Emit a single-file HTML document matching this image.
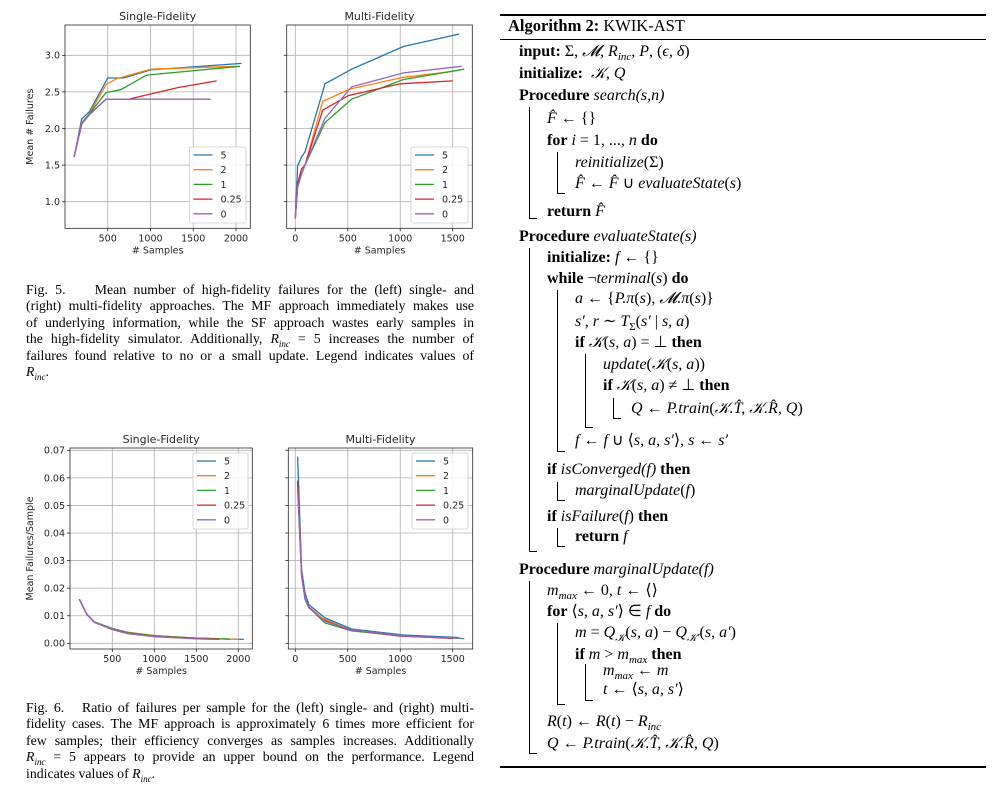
<!DOCTYPE html>
<html><head><meta charset="utf-8">
<style>
body{margin:0;width:999px;height:788px;background:#fff;position:relative;overflow:hidden;font-family:"Liberation Serif",serif;color:#000}
sub{line-height:0}
.cap{position:absolute;left:26px;width:448px;font-size:13.8px;line-height:16.4px}
.cap div{text-align:justify;text-align-last:justify;white-space:nowrap;height:16.4px}
.cap div.l{text-align-last:left}
.alg{position:absolute;font-size:16px;white-space:nowrap;line-height:18px}
.m{font-style:italic}
.b{font-weight:bold}
.vb{position:absolute;border-left:1px solid #000;border-bottom:1px solid #000;width:7px}
.rule{position:absolute;left:500px;width:486px;background:#000}
svg text{font-family:"DejaVu Sans",sans-serif;fill:#262626}
</style></head><body>
<svg id="charts" width="490" height="690" style="position:absolute;left:0;top:0"></svg>

<div class="cap" style="top:282px">
<div>Fig. 5.&nbsp;&nbsp;&nbsp; Mean number of high-fidelity failures for the (left) single- and</div>
<div>(right) multi-fidelity approaches. The MF approach immediately makes use</div>
<div>of underlying information, while the SF approach wastes early samples in</div>
<div>the high-fidelity simulator. Additionally, <span class="m">R<sub style="font-size:9px">inc</sub></span> = 5 increases the number of</div>
<div>failures found relative to no or a small update. Legend indicates values of</div>
<div class="l"><span class="m">R<sub style="font-size:9px">inc</sub></span>.</div>
</div>
<div class="cap" style="top:700px">
<div>Fig. 6.&nbsp;&nbsp; Ratio of failures per sample for the (left) single- and (right) multi-</div>
<div>fidelity cases. The MF approach is approximately 6 times more efficient for</div>
<div>few samples; their efficiency converges as samples increases. Additionally</div>
<div><span class="m">R<sub style="font-size:9px">inc</sub></span> = 5 appears to provide an upper bound on the performance. Legend</div>
<div class="l">indicates values of <span class="m">R<sub style="font-size:9px">inc</sub></span>.</div>
</div>

<div>
<div class="rule" style="top:14px;height:1.5px"></div>
<div class="alg" style="left:508px;top:17px;font-size:16.5px"><span class="b">Algorithm 2:</span> KWIK-AST</div>
<div class="rule" style="top:39px;height:1px"></div>
<div class="rule" style="top:766px;height:1.5px"></div>

<div class="alg" style="left:519px;top:43px"><span class="b">input:</span> Σ, <span class="m">𝓜, R<sub style="font-size:11px">inc</sub>, P</span>, (<span class="m">ϵ, δ</span>)</div>
<div class="alg" style="left:519px;top:65px"><span class="b">initialize:</span>&nbsp; <span class="m">𝒦, Q</span></div>
<div class="alg" style="left:519px;top:87px"><span class="b">Procedure</span> <span class="m">search(s,n)</span></div>
<div class="vb" style="left:529px;top:107px;height:111px"></div>
<div class="alg" style="left:547px;top:110px"><span class="m">F̂</span> ← {}</div>
<div class="alg" style="left:547px;top:132px"><span class="b">for</span> <span class="m">i</span> = 1, ..., <span class="m">n</span> <span class="b">do</span></div>
<div class="vb" style="left:557px;top:152px;height:41px"></div>
<div class="alg" style="left:575px;top:154px"><span class="m">reinitialize</span>(Σ)</div>
<div class="alg" style="left:575px;top:175px"><span class="m">F̂</span> ← <span class="m">F̂</span> ∪ <span class="m">evaluateState</span>(<span class="m">s</span>)</div>
<div class="alg" style="left:547px;top:203px"><span class="b">return</span> <span class="m">F̂</span></div>

<div class="alg" style="left:519px;top:228px"><span class="b">Procedure</span> <span class="m">evaluateState(s)</span></div>
<div class="vb" style="left:529px;top:248px;height:303px"></div>
<div class="alg" style="left:547px;top:249px"><span class="b">initialize:</span> <span class="m">f</span> ← {}</div>
<div class="alg" style="left:547px;top:270px"><span class="b">while</span> ¬<span class="m">terminal</span>(<span class="m">s</span>) <span class="b">do</span></div>
<div class="vb" style="left:557px;top:290px;height:161px"></div>
<div class="alg" style="left:575px;top:290px"><span class="m">a</span> ← {<span class="m">P.π</span>(<span class="m">s</span>), <span class="m">𝓜.π</span>(<span class="m">s</span>)}</div>
<div class="alg" style="left:575px;top:313px"><span class="m">s′, r</span> ∼ <span class="m">T</span><sub style="font-size:11px">Σ</sub>(<span class="m">s′</span> | <span class="m">s, a</span>)</div>
<div class="alg" style="left:575px;top:334px"><span class="b">if</span> <span class="m">𝒦</span>(<span class="m">s, a</span>) = ⊥ <span class="b">then</span></div>
<div class="vb" style="left:585px;top:354px;height:73px"></div>
<div class="alg" style="left:603px;top:356px"><span class="m">update</span>(<span class="m">𝒦</span>(<span class="m">s, a</span>))</div>
<div class="alg" style="left:603px;top:377px"><span class="b">if</span> <span class="m">𝒦</span>(<span class="m">s, a</span>) ≠ ⊥ <span class="b">then</span></div>
<div class="vb" style="left:613px;top:398px;height:20px"></div>
<div class="alg" style="left:631px;top:400px"><span class="m">Q</span> ← <span class="m">P.train</span>(<span class="m">𝒦.T̂, 𝒦.R̂, Q</span>)</div>
<div class="alg" style="left:575px;top:432px"><span class="m">f</span> ← <span class="m">f</span> ∪ ⟨<span class="m">s, a, s′</span>⟩, <span class="m">s</span> ← <span class="m">s′</span></div>
<div class="alg" style="left:547px;top:461px"><span class="b">if</span> <span class="m">isConverged(f)</span> <span class="b">then</span></div>
<div class="vb" style="left:557px;top:482px;height:18px"></div>
<div class="alg" style="left:575px;top:482px"><span class="m">marginalUpdate</span>(<span class="m">f</span>)</div>
<div class="alg" style="left:547px;top:508px"><span class="b">if</span> <span class="m">isFailure</span>(<span class="m">f</span>) <span class="b">then</span></div>
<div class="vb" style="left:557px;top:528px;height:18px"></div>
<div class="alg" style="left:575px;top:528px"><span class="b">return</span> <span class="m">f</span></div>

<div class="alg" style="left:519px;top:561px"><span class="b">Procedure</span> <span class="m">marginalUpdate(f)</span></div>
<div class="vb" style="left:529px;top:581px;height:172px"></div>
<div class="alg" style="left:547px;top:582px"><span class="m">m<sub style="font-size:11px">max</sub></span> ← 0, <span class="m">t</span> ← ⟨⟩</div>
<div class="alg" style="left:547px;top:603px"><span class="b">for</span> ⟨<span class="m">s, a, s′</span>⟩ ∈ <span class="m">f</span> <span class="b">do</span></div>
<div class="vb" style="left:557px;top:623px;height:81px"></div>
<div class="alg" style="left:575px;top:624px"><span class="m">m</span> = <span class="m">Q</span><sub style="font-size:11px" class="m">𝒦</sub>(<span class="m">s, a</span>) − <span class="m">Q</span><sub style="font-size:11px" class="m">𝒦′</sub>(<span class="m">s, a′</span>)</div>
<div class="alg" style="left:575px;top:646px"><span class="b">if</span> <span class="m">m</span> &gt; <span class="m">m<sub style="font-size:11px">max</sub></span> <span class="b">then</span></div>
<div class="vb" style="left:585px;top:664px;height:36px"></div>
<div class="alg" style="left:603px;top:662px"><span class="m">m<sub style="font-size:11px">max</sub></span> ← <span class="m">m</span></div>
<div class="alg" style="left:603px;top:681px"><span class="m">t</span> ← ⟨<span class="m">s, a, s′</span>⟩</div>
<div class="alg" style="left:547px;top:713px"><span class="m">R</span>(<span class="m">t</span>) ← <span class="m">R</span>(<span class="m">t</span>) − <span class="m">R<sub style="font-size:11px">inc</sub></span></div>
<div class="alg" style="left:547px;top:735px"><span class="m">Q</span> ← <span class="m">P.train</span>(<span class="m">𝒦.T̂, 𝒦.R̂, Q</span>)</div>
</div>

<script>
const seriesNames=["5","2","1","0.25","0"];
const colors=["#1f77b4","#ff7f0e","#2ca02c","#d62728","#9467bd"];
// Fig 5 single-fidelity: x samples, y mean failures
const sfX=[[107,196,286,500,683,1003,2066],[107,196,286,480,605,1003,2000],[107,196,286,480,652,956,2047],[107,196,286,480,742,995,1326,1774],[107,196,286,480,1704]];
const sfY=[[1.61,2.13,2.23,2.69,2.69,2.80,2.89],[1.61,2.08,2.20,2.60,2.68,2.81,2.85],[1.61,2.07,2.20,2.49,2.53,2.73,2.85],[1.61,2.06,2.19,2.40,2.40,2.47,2.56,2.65],[1.61,2.06,2.19,2.40,2.40]];
const mfX=[[0,22,60,92,283,537,1030,1560],[0,22,60,92,261,521,1030,1506],[0,22,60,92,283,537,1030,1611],[0,22,60,92,261,505,998,1500],[0,22,60,92,283,537,1030,1585]];
const mfY=[[0.77,1.49,1.61,1.68,2.61,2.81,3.12,3.29],[0.77,1.20,1.39,1.50,2.37,2.54,2.70,2.78],[0.77,1.20,1.38,1.50,2.08,2.40,2.67,2.81],[0.77,1.25,1.45,1.50,2.25,2.45,2.61,2.65],[0.77,1.20,1.38,1.50,2.14,2.57,2.76,2.85]];
// Fig 6 ratios
const sfRX=[[107,196,286,500,683,1003,1500,2066],[107,196,286,500,683,1003,1500,2000],[107,196,286,500,683,1003,1500,1900],[107,196,286,500,683,1003,1500,1774],[107,196,286,500,683,1003,1500,1704]];
const sfRY=[[0.0160,0.0106,0.0078,0.0054,0.0040,0.0028,0.0019,0.0014],[0.0160,0.0105,0.0077,0.0053,0.0039,0.0028,0.0019,0.0014],[0.0160,0.0105,0.0077,0.0052,0.0038,0.0027,0.0019,0.0015],[0.0160,0.0105,0.0076,0.0050,0.0035,0.0025,0.0017,0.0015],[0.0160,0.0105,0.0076,0.0050,0.0035,0.0024,0.0016,0.0014]];
const mfRX=[[22,60,92,130,283,537,1030,1560],[22,60,92,130,261,521,1030,1506],[22,60,92,130,283,537,1030,1611],[22,60,92,130,261,505,998,1500],[22,60,92,130,283,537,1030,1585]];
const mfRY=[[0.0677,0.0268,0.0183,0.0140,0.0092,0.0052,0.0030,0.0021],[0.0590,0.0250,0.0163,0.0132,0.0090,0.0049,0.0026,0.0018],[0.0580,0.0245,0.0163,0.0130,0.0074,0.0045,0.0026,0.0017],[0.0590,0.0250,0.0163,0.0130,0.0086,0.0049,0.0026,0.0018],[0.0560,0.0245,0.0160,0.0128,0.0080,0.0048,0.0027,0.0018]];
const xt1=[500,1000,1500,2000], xt2=[0,500,1000,1500];
const yt5=[1.0,1.5,2.0,2.5,3.0], yt6=[0,0.01,0.02,0.03,0.04,0.05,0.06,0.07];

const svg=document.getElementById('charts');
const NS='http://www.w3.org/2000/svg';
function mk(tag,attrs,parent){const e=document.createElementNS(NS,tag);for(const k in attrs)e.setAttribute(k,attrs[k]);(parent||svg).appendChild(e);return e;}
function lin(d0,d1,r0,r1){return v=>r0+(v-d0)/(d1-d0)*(r1-r0);}

function panel(o){
  const g=mk('g',{});
  
  
  const X=lin(o.xd[0],o.xd[1],o.xr[0],o.xr[1]);
  const Y=lin(o.yd[0],o.yd[1],o.yr[0],o.yr[1]);
  o.xt.forEach(t=>{const x=X(t);
    const l=mk('line',{x1:x,x2:x,y1:o.box[1],y2:o.box[3],stroke:'#b0b0b0','stroke-width':0.8},g);
    
    mk('line',{x1:x,x2:x,y1:o.box[3],y2:o.box[3]+3,stroke:'#262626','stroke-width':0.8},g);
    const tx=mk('text',{x:x,y:o.box[3]+13,'font-size':9.5,'text-anchor':'middle'},g);tx.textContent=t;
    });
  o.yt.forEach(t=>{const y=Y(t);
    const l=mk('line',{x1:o.box[0],x2:o.box[2],y1:y,y2:y,stroke:'#b0b0b0','stroke-width':0.8},g);
    
    mk('line',{x1:o.box[0]-3,x2:o.box[0],y1:y,y2:y,stroke:'#262626','stroke-width':0.8},g);
    if(o.ylab){const tx=mk('text',{x:o.box[0]-5,y:y+3.4,'font-size':9.5,'text-anchor':'end'},g);tx.textContent=o.fmt(t);
      }});
  o.xs.forEach((xs,i)=>{const pts=xs.map((x,j)=>X(x).toFixed(1)+','+Y(o.ys[i][j]).toFixed(1)).join(' ');
    const p=mk('polyline',{points:pts,fill:'none',stroke:colors[i],'stroke-width':1.3},g);
    });
  const r=mk('rect',{x:o.box[0],y:o.box[1],width:o.box[2]-o.box[0],height:o.box[3]-o.box[1],fill:'none',stroke:'#262626','stroke-width':0.8},g);
  
  const tt=mk('text',{x:(o.box[0]+o.box[2])/2,y:o.box[1]-5,'font-size':11,'text-anchor':'middle'},g);tt.textContent=o.title;
  
  const xl=mk('text',{x:(o.box[0]+o.box[2])/2,y:o.box[3]+25,'font-size':9.5,'text-anchor':'middle'},g);xl.textContent='# Samples';
  
  if(o.ytitle){const yl=mk('text',{x:0,y:0,'font-size':9.5,'text-anchor':'middle',transform:`translate(${o.ytx},${(o.box[1]+o.box[3])/2}) rotate(-90)`},g);yl.textContent=o.ytitle;
    }
  const L=o.leg;
  const lg=mk('g',{},g);
  mk('rect',{x:L[0],y:L[1],width:L[2],height:L[3],rx:2,fill:'#fff','fill-opacity':0.85,stroke:'#cccccc','stroke-width':0.8},lg);
  seriesNames.forEach((n,i)=>{const y=L[1]+8+i*14.7;
    const e=mk('g',{},lg);
    mk('line',{x1:L[0]+4,x2:L[0]+23,y1:y,y2:y,stroke:colors[i],'stroke-width':1.3},e);
    const t=mk('text',{x:L[0]+31,y:y+3.5,'font-size':9.5},e);t.textContent=n;});
}
panel({name:'fig5-single-fidelity',box:[65,25,250.3,228.3],xd:[500,2000],xr:[107.7,236],yd:[1,3],yr:[201.7,55.3],xt:xt1,yt:yt5,ylab:true,fmt:v=>v.toFixed(1),xs:sfX,ys:sfY,title:'Single-Fidelity',ytitle:'Mean # Failures',ytx:33,leg:[189.5,147,56.5,76]});
panel({name:'fig5-multi-fidelity',box:[286.7,25,472.3,228.3],xd:[0,1500],xr:[295.3,452.7],yd:[1,3],yr:[201.7,55.3],xt:xt2,yt:yt5,ylab:false,xs:mfX,ys:mfY,title:'Multi-Fidelity',leg:[411,147,57,76]});
panel({name:'fig6-single-fidelity',box:[70,448,252.3,649],xd:[500,2000],xr:[112.3,238.3],yd:[0,0.07],yr:[643.3,450.3],xt:xt1,yt:yt6,ylab:true,fmt:v=>v.toFixed(2),xs:sfRX,ys:sfRY,title:'Single-Fidelity',ytitle:'Mean Failures/Sample',ytx:33,leg:[193,453,55,76]});
panel({name:'fig6-multi-fidelity',box:[288.3,448,472.7,649],xd:[0,1500],xr:[295.3,452.7],yd:[0,0.07],yr:[643.3,450.3],xt:xt2,yt:yt6,ylab:false,xs:mfRX,ys:mfRY,title:'Multi-Fidelity',leg:[412,453,56,76]});
</script>
</body></html>
